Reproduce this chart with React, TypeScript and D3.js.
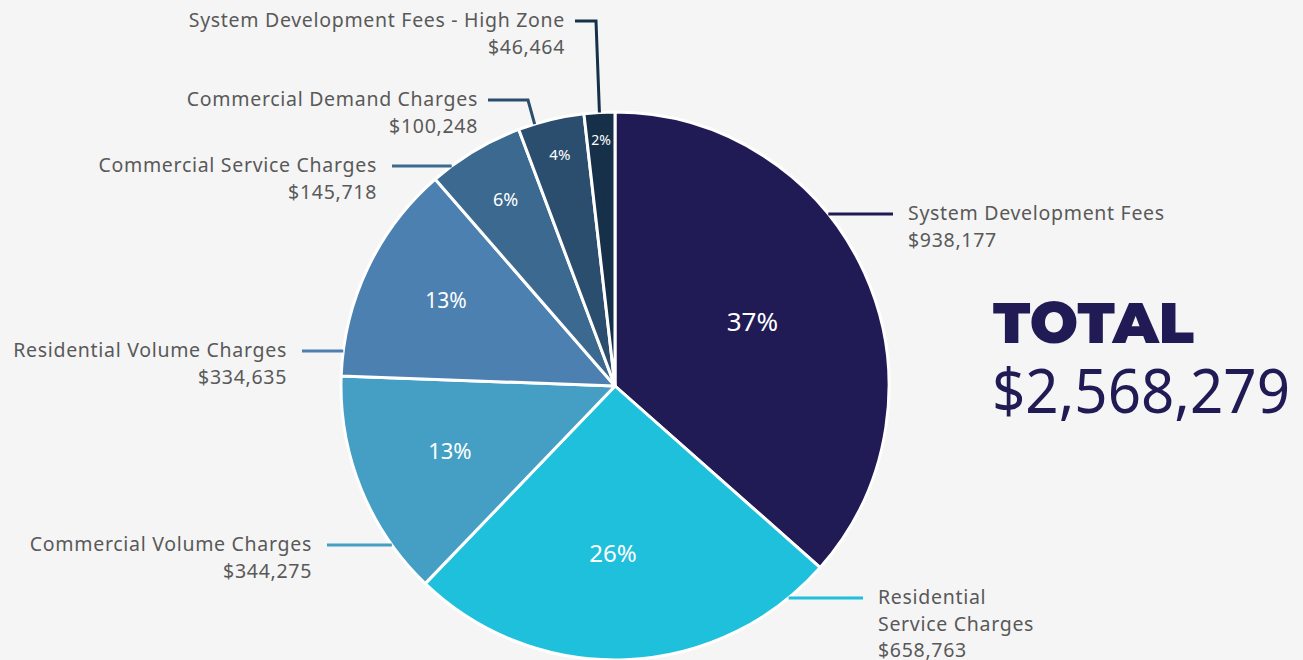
import React from 'react';
import { pie, arc, PieArcDatum } from 'd3';

const categories = [
  'System Development Fees',
  'Residential Service Charges',
  'Commercial Volume Charges',
  'Residential Volume Charges',
  'Commercial Service Charges',
  'Commercial Demand Charges',
  'System Development Fees - High Zone',
];
const amounts = [938177, 658763, 344275, 334635, 145718, 100248, 46464];
const percentLabels = ['37%', '26%', '13%', '13%', '6%', '4%', '2%'];
const labelLines = [
  ['System Development Fees'],
  ['Residential', 'Service Charges'],
  ['Commercial Volume Charges'],
  ['Residential Volume Charges'],
  ['Commercial Service Charges'],
  ['Commercial Demand Charges'],
  ['System Development Fees - High Zone'],
];
const totalLabel = '$2,568,279';

const colors = ['#201a55', '#1fc0db', '#459fc4', '#4c80b0', '#3c698f', '#2b4e6e', '#16304a'];

// layout for the labels outside the pie
const W = 1303;
const H = 660;
const cx = 615;
const cy = 386;
const R = 274;
const pctRadius = [0.55, 0.62, 0.65, 0.7, 0.78, 0.86, 0.89];
const pctSize = [26, 24, 22, 21, 18, 15, 14];
const pctShift = [0, -9, 0, 4, 0, 0, 0];
const leaders = [
  { y: 214, textX: 908, anchor: 'start' },
  { y: 598, textX: 878, anchor: 'start' },
  { y: 545, textX: 312, anchor: 'end' },
  { y: 351, textX: 287, anchor: 'end' },
  { y: 166, textX: 377, anchor: 'end' },
  { y: 100, textX: 478, anchor: 'end', elbowX: 528, frac: 0.25 },
  { y: 21, textX: 565, anchor: 'end', elbowX: 596, frac: 0.5 },
];

const fmt = (v: number) => '$' + v.toLocaleString('en-US');
const font = "'Noto Sans', 'Open Sans', sans-serif";

export default function App() {
  const rows = categories.map((c, i) => ({ name: c, value: amounts[i], i }));
  const arcs = pie<any>().value((d) => d.value).sort(null)(rows);
  const arcGen = arc<PieArcDatum<any>>().innerRadius(0).outerRadius(R);

  return (
    <svg width={W} height={H} style={{ position: 'absolute', left: 0, top: 0, background: '#f5f5f5' }}>
      <g transform={`translate(${cx},${cy})`}>
        {arcs.map((a, i) => (
          <path key={i} d={arcGen(a) || ''} fill={colors[i]} stroke="#fff" strokeWidth={3} strokeLinejoin="round" />
        ))}
        {arcs.map((a, i) => {
          const m = (a.startAngle + a.endAngle) / 2;
          const rr = R * pctRadius[i];
          return (
            <text
              key={i}
              x={rr * Math.sin(m) + pctShift[i]}
              y={-rr * Math.cos(m) - 3}
              textAnchor="middle"
              dominantBaseline="central"
              fill="#fff"
              fontFamily={font}
              fontSize={pctSize[i]}
            >
              {percentLabels[i]}
            </text>
          );
        })}
      </g>
      {arcs.map((a, i) => {
        const L = leaders[i];
        let pts: [number, number][];
        if (L.elbowX !== undefined) {
          const ang = a.startAngle + (a.endAngle - a.startAngle) * L.frac;
          const ex = cx + R * Math.sin(ang);
          const ey = cy - R * Math.cos(ang);
          pts = [
            [L.textX + 10, L.y],
            [L.elbowX, L.y],
            [ex, ey],
          ];
        } else {
          const dx = Math.sqrt(R * R - (L.y - cy) * (L.y - cy));
          const side = L.anchor === 'start' ? 1 : -1;
          pts = [
            [L.textX - side * 15, L.y],
            [cx + side * dx, L.y],
          ];
        }
        const lines = [...labelLines[i], fmt(amounts[i])];
        return (
          <g key={i}>
            <polyline points={pts.map((p) => p.join(',')).join(' ')} fill="none" stroke={colors[i]} strokeWidth={3} />
            <text
              x={L.textX}
              y={L.y + 6}
              textAnchor={L.anchor as any}
              fill="#595959"
              fontFamily={font}
              fontSize={19.5}
              letterSpacing={0.7}
            >
              {lines.map((t, k) => (
                <tspan key={k} x={L.textX} dy={k === 0 ? 0 : 26.5}>
                  {t}
                </tspan>
              ))}
            </text>
          </g>
        );
      })}
      <text x={993} y={343} fill="#201a55" fontFamily="'Montserrat', 'Lato', 'Noto Sans', sans-serif" fontWeight={900} fontSize={57}>
        TOTAL
      </text>
      <text
        x={992}
        y={413}
        fill="#201a55"
        fontFamily={font}
        fontSize={62}
        textLength={298}
        lengthAdjust="spacingAndGlyphs"
      >
        {totalLabel}
      </text>
    </svg>
  );
}
